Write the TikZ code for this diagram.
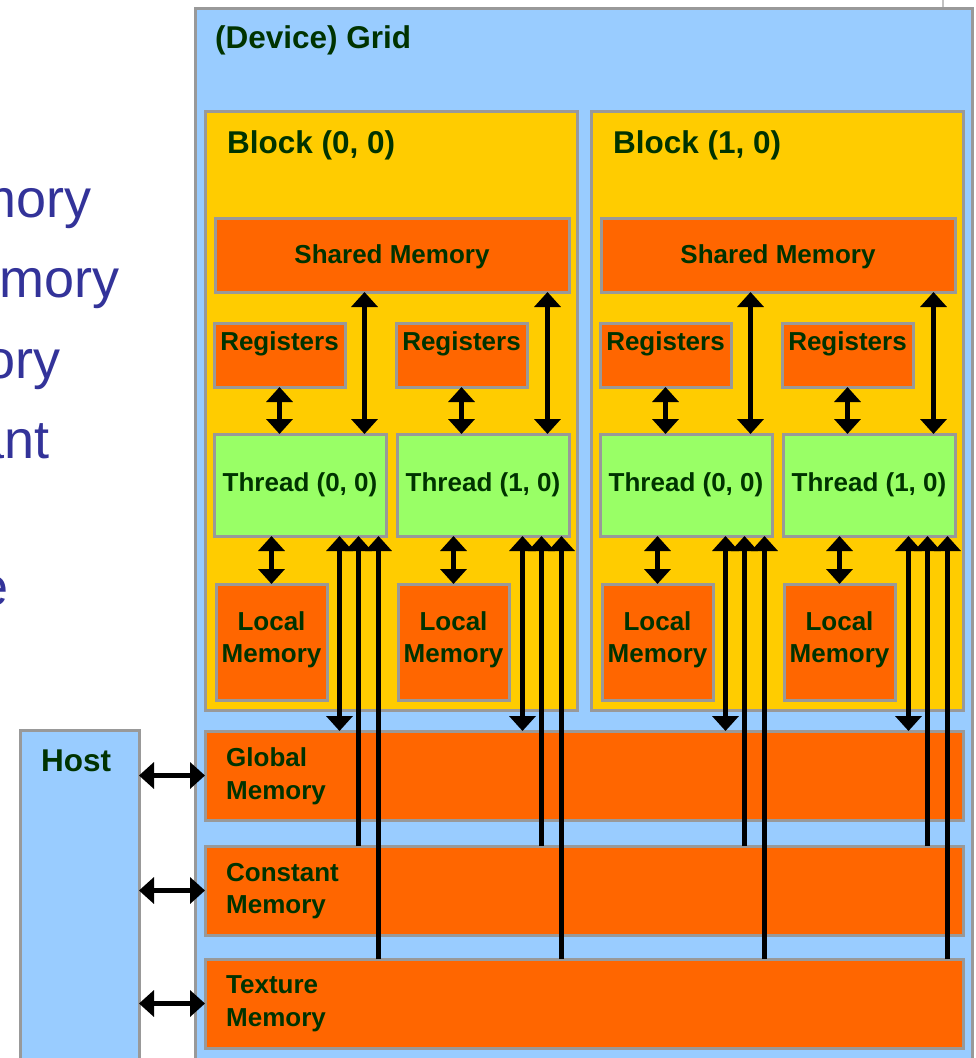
\documentclass[tikz,border=0pt]{standalone}
\usepackage{fontspec}
\setmainfont{Liberation Sans}
\usetikzlibrary{arrows.meta,calc}
\definecolor{gridblue}{HTML}{99CCFF}
\definecolor{blockyel}{HTML}{FFCC00}
\definecolor{memorg}{HTML}{FF6600}
\definecolor{thrgreen}{HTML}{99FF66}
\definecolor{lblgreen}{HTML}{003300}
\definecolor{bordergray}{HTML}{999999}
\definecolor{slideblue}{HTML}{333399}
\begin{document}
\begin{tikzpicture}[x=1pt,y=-1pt,
  box/.style={draw=bordergray, line width=3pt, rectangle, inner sep=0pt, outer sep=0pt, anchor=north west},
  membox/.style={box, fill=memorg},
  lbl/.style={inner sep=0pt, text=lblgreen, font=\fontsize{26}{32}\selectfont\bfseries},
  ttl/.style={inner sep=0pt, text=lblgreen, font=\fontsize{31.5}{36}\selectfont\bfseries},
  slide/.style={inner sep=0pt, anchor=base east, text=slideblue, font=\fontsize{54}{64}\selectfont},
  tipA/.tip={Triangle[width=26pt,length=15pt]},
  dbl/.style={line width=5.5pt, tipA-tipA},
  upar/.style={line width=5.5pt, -tipA}
]
\useasboundingbox (0,0) rectangle (975,1058);
\clip (0,0) rectangle (975,1058);

% partially visible slide text on the left
\node[slide] (s1) at (92,217) {mory};
\node[slide] (s2) at (120,297) {mory};
\node[slide] (s3) at (61,378) {ory};
\node[slide] (s4) at (50,458) {ant};
\node[slide] (s5) at (9,605) {e};

% frame piece at the top right
\coordinate (fa) at (943,0);
\coordinate (fb) at (943,8);
\draw[line width=2pt, bordergray!60] (fa) -- (fb);

% grid and host
\node[box, fill=gridblue, minimum width=777pt, minimum height=1090pt] (grid) at (195,8) {};
\node[ttl, anchor=base west] (gridl) at ($(grid.north west)+(20,40)$) {(Device) Grid};
\node[box, fill=gridblue, minimum width=119pt, minimum height=360pt] (host) at (20,730) {};
\node[ttl, anchor=base west] (hostl) at ($(host.north west)+(21,41)$) {Host};

% memories
\node[membox, minimum width=758pt, minimum height=89pt] (glob) at (205,731) {};
\node[membox, minimum width=758pt, minimum height=89pt] (const) at (205,846) {};
\node[membox, minimum width=758pt, minimum height=89pt] (tex) at (205,959) {};
\node[lbl, anchor=base west] (globl1) at ($(glob.north west)+(21,35)$) {Global};
\node[lbl, anchor=base west] (globl2) at ($(glob.north west)+(21,68)$) {Memory};
\node[lbl, anchor=base west] (constl1) at ($(const.north west)+(21,35)$) {Constant};
\node[lbl, anchor=base west] (constl2) at ($(const.north west)+(21,67)$) {Memory};
\node[lbl, anchor=base west] (texl1) at ($(tex.north west)+(21,34)$) {Texture};
\node[lbl, anchor=base west] (texl2) at ($(tex.north west)+(21,67)$) {Memory};

% blocks
\foreach \b/\dx in {0/0,1/386}{
  \node[box, fill=blockyel, minimum width=372pt, minimum height=599pt] (blk\b) at (205+\dx,111) {};
  \node[ttl, anchor=base west] (blkl\b) at ($(blk\b.north west)+(22,42)$) {Block (\b, 0)};
  \node[membox, minimum width=354pt, minimum height=74pt] (sm\b) at (215+\dx,218) {};
  \node[lbl, anchor=base] (sml\b) at ($(sm\b.north)+(0,45)$) {Shared Memory};
  \node[membox, minimum width=131pt, minimum height=64pt] (r\b0) at (214+\dx,323) {};
  \node[membox, minimum width=131pt, minimum height=64pt] (r\b1) at (396+\dx,323) {};
  \node[box, fill=thrgreen, minimum width=172pt, minimum height=102pt] (t\b0) at (214+\dx,434) {};
  \node[box, fill=thrgreen, minimum width=172pt, minimum height=102pt] (t\b1) at (397+\dx,434) {};
  \node[membox, minimum width=111pt, minimum height=116pt] (l\b0) at (216+\dx,584) {};
  \node[membox, minimum width=111pt, minimum height=116pt] (l\b1) at (398+\dx,584) {};
  \foreach \k in {0,1}{
    \node[lbl, anchor=base] (rl\b\k) at ($(r\b\k.north)+(0,27)$) {Registers};
    \node[lbl, anchor=base] (tl\b\k) at ($(t\b\k.north)+(0,57)$) {Thread (\k, 0)};
    \node[lbl, anchor=base] (ll\b\k a) at ($(l\b\k.north)+(0,46)$) {Local};
    \node[lbl, anchor=base] (ll\b\k b) at ($(l\b\k.north)+(0,78)$) {Memory};
    \draw[dbl] (r\b\k.south) -- (r\b\k.south |- t\b\k.north);
    \draw[dbl] ([xshift=64.5pt]t\b\k.north) -- ([xshift=64.5pt]t\b\k.north |- sm\b.south);
    \draw[dbl] (l\b\k.north) -- (l\b\k.north |- t\b\k.south);
    \draw[dbl] ([xshift=39.5pt]t\b\k.south) -- ([xshift=39.5pt]t\b\k.south |- glob.north);
    \draw[upar] ([xshift=58.5pt]t\b\k.south |- const.north) -- ([xshift=58.5pt]t\b\k.south);
    \draw[upar] ([xshift=78.5pt]t\b\k.south |- tex.north) -- ([xshift=78.5pt]t\b\k.south);
  }
}

% host connections
\draw[dbl] (host.east |- glob.west) -- (glob.west);
\draw[dbl] (host.east |- const.west) -- (const.west);
\draw[dbl] (host.east |- tex.west) -- (tex.west);
\end{tikzpicture}
\end{document}
